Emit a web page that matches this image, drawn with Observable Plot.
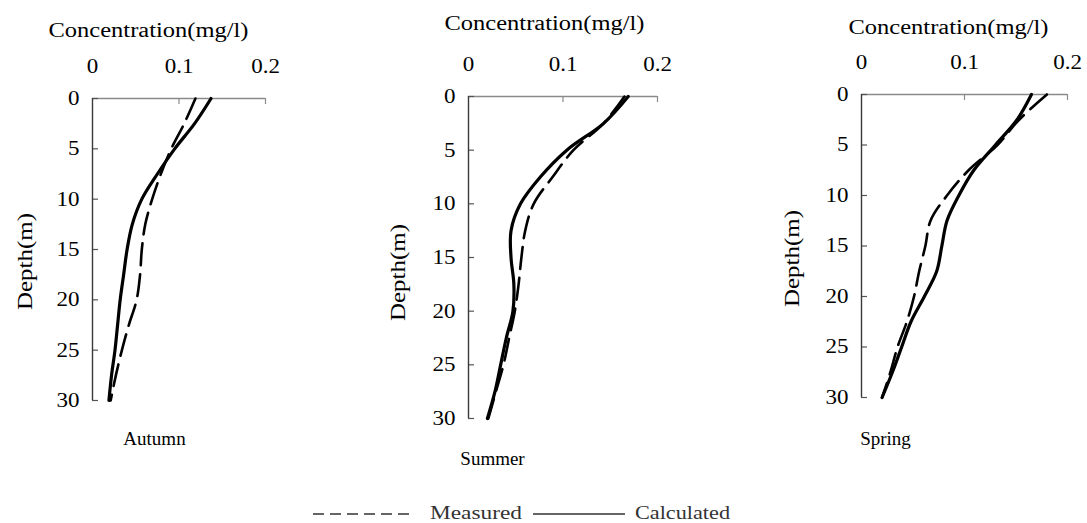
<!DOCTYPE html>
<html><head><meta charset="utf-8">
<script src="https://cdn.jsdelivr.net/npm/d3@7"></script>
<script src="https://cdn.jsdelivr.net/npm/@observablehq/plot@0.6"></script>
<style>
body{margin:0;background:#fff;}
#wrap{position:relative;width:1087px;height:523px;overflow:hidden;background:#fff;font-family:"Liberation Serif","Times New Roman",serif;}
#wrap svg, #wrap svg text{font-family:"Liberation Serif","Times New Roman",serif !important;}
.panel{position:absolute;top:0;}
#legend{position:absolute;left:0;top:500px;}
</style></head><body><div id="wrap"></div>
<script>
// ---- data ----
const depths = [0, 2.5, 5, 7.5, 10, 12.5, 15, 17.5, 20, 22.5, 25, 27.5, 30];
const autumnMeasured   = [0.119, 0.106, 0.091, 0.079, 0.069, 0.061, 0.057, 0.055, 0.051, 0.042, 0.034, 0.027, 0.021];
const autumnCalculated = [0.137, 0.118, 0.095, 0.075, 0.057, 0.046, 0.040, 0.036, 0.032, 0.029, 0.026, 0.022, 0.019];
const summerMeasured   = [0.165, 0.143, 0.111, 0.089, 0.069, 0.060, 0.056, 0.053, 0.049, 0.043, 0.037, 0.029, 0.021];
const summerCalculated = [0.169, 0.143, 0.104, 0.076, 0.055, 0.045, 0.045, 0.048, 0.047, 0.040, 0.034, 0.028, 0.020];
const springMeasured   = [0.180, 0.153, 0.132, 0.104, 0.083, 0.067, 0.062, 0.056, 0.051, 0.044, 0.035, 0.028, 0.020];
const springCalculated = [0.165, 0.151, 0.130, 0.109, 0.0945, 0.083, 0.078, 0.073, 0.061, 0.048, 0.039, 0.030, 0.020];
const seasons = ["Autumn", "Summer", "Spring"];
const xTicks = [0, 0.1, 0.2];
const xTickLabels = ["0", "0.1", "0.2"];
const yTicks = [0, 5, 10, 15, 20, 25, 30];
const xTitle = "Concentration(mg/l)";
const yTitle = "Depth(m)";
const legendLabels = ["Measured", "Calculated"];

const FONT = "Liberation Serif";
const wrap = document.getElementById("wrap");

const layouts = [
  {left: 0,   width: 330, height: 470, mL: 92,  mR: 65, mT: 98, mB: 70, title: [148, 30], depth: [25, 261],  season: [154, 438]},
  {left: 340, width: 370, height: 470, mL: 128, mR: 53, mT: 96, mB: 52, title: [544, 23], depth: [398, 272], season: [492, 458]},
  {left: 720, width: 367, height: 470, mL: 141, mR: 20, mT: 94, mB: 73, title: [948, 27], depth: [792, 258], season: [885, 438]}
];
const seriesSets = [
  [autumnMeasured, autumnCalculated],
  [summerMeasured, summerCalculated],
  [springMeasured, springCalculated]
];

function stretch(el, factor, target) {
  const w = el.getComputedTextLength();
  el.setAttribute("textLength", target != null ? target : w * factor);
  el.setAttribute("lengthAdjust", "spacingAndGlyphs");
}
function textsOf(root, label) {
  const out = [];
  root.querySelectorAll(`[aria-label="${label}"]`).forEach(n => {
    if (n.tagName.toLowerCase() === "text") out.push(n);
    else n.querySelectorAll("text").forEach(t => out.push(t));
  });
  return out;
}

seasons.forEach((season, k) => {
  const L = layouts[k];
  const [meas, calc] = seriesSets[k];
  const measRows = depths.map((d, i) => ({depth: d, conc: meas[i]}));
  const calcRows = depths.map((d, i) => ({depth: d, conc: calc[i]}));
  const fw = L.width - L.mL - L.mR, fh = L.height - L.mT - L.mB;
  const ox = L.left + L.mL, oy = L.mT;
  const chart = Plot.plot({
    width: L.width, height: L.height,
    marginLeft: L.mL, marginRight: L.mR, marginTop: L.mT, marginBottom: L.mB,
    style: {fontFamily: FONT, fontSize: "20px", color: "#000", background: "transparent", overflow: "visible"},
    x: {domain: [0, 0.2], axis: null},
    y: {domain: [0, 30], reverse: true, axis: null},
    marks: [
      Plot.ruleY([0], {stroke: "#8a8a8a", strokeWidth: 1.4}),
      Plot.ruleX([0.1, 0.2], {stroke: "#8a8a8a", strokeWidth: 1.2, insetBottom: fh - 6}),
      Plot.ruleY(yTicks, {stroke: "#555", strokeWidth: 1.2, insetRight: fw - 6}),
      Plot.ruleX([0], {stroke: "#3a3a3a", strokeWidth: 1.4}),
      Plot.axisX({anchor: "top", ticks: xTicks, tickFormat: d => xTickLabels[xTicks.indexOf(d)], tickSize: 0, tickPadding: 26, label: null, fontSize: 20, fontFamily: FONT, fill: "#000"}),
      Plot.axisY({anchor: "left", ticks: yTicks, tickSize: 0, tickPadding: 13, label: null, fontSize: 20, fontFamily: FONT, fill: "#000"}),
      Plot.line(calcRows, {x: "conc", y: "depth", curve: "catmull-rom", stroke: "#000", strokeWidth: 3.2}),
      Plot.line(measRows, {x: "conc", y: "depth", curve: "catmull-rom", stroke: "#000", strokeWidth: 2.6, strokeDasharray: "22,9"}),
      Plot.text([xTitle], {text: d => d, ariaLabel: () => "x-title", frameAnchor: "top-left", textAnchor: "middle", lineAnchor: "middle", dx: L.title[0] - ox, dy: L.title[1] - oy, fontSize: 20, fontFamily: FONT, fill: "#000"}),
      Plot.text([yTitle], {text: d => d, ariaLabel: () => "y-title", frameAnchor: "top-left", textAnchor: "middle", lineAnchor: "middle", rotate: -90, dx: L.depth[0] - ox, dy: L.depth[1] - oy, fontSize: 20, fontFamily: FONT, fill: "#000"}),
      Plot.text([season], {text: d => d, ariaLabel: () => "season", frameAnchor: "top-left", textAnchor: "middle", lineAnchor: "middle", dx: L.season[0] - ox, dy: L.season[1] - oy, fontSize: 19, fontFamily: FONT, fill: "#000"})
    ]
  });
  chart.classList.add("panel");
  chart.style.left = L.left + "px";
  wrap.appendChild(chart);
  textsOf(chart, "x-title").forEach(t => stretch(t, 1, 200));
  textsOf(chart, "y-title").forEach(t => stretch(t, 1, 97));
  textsOf(chart, "x-axis tick label").concat(textsOf(chart, "y-axis tick label")).forEach(t => stretch(t, 1.15));
});

// ---- legend ----
const NS = "http://www.w3.org/2000/svg";
const lg = document.createElementNS(NS, "svg");
lg.setAttribute("id", "legend");
lg.setAttribute("width", 1087);
lg.setAttribute("height", 23);
wrap.appendChild(lg);
const legendItems = [
  {label: legendLabels[0], x1: 313, x2: 415, tx: 430, tw: 92, dash: "11,6"},
  {label: legendLabels[1], x1: 533, x2: 625, tx: 635, tw: 95, dash: null}
];
legendItems.forEach(it => {
  const ln = document.createElementNS(NS, "line");
  ln.setAttribute("x1", it.x1); ln.setAttribute("x2", it.x2);
  ln.setAttribute("y1", 14); ln.setAttribute("y2", 14);
  ln.setAttribute("stroke", "#333"); ln.setAttribute("stroke-width", 1.5);
  if (it.dash) ln.setAttribute("stroke-dasharray", it.dash);
  lg.appendChild(ln);
  const t = document.createElementNS(NS, "text");
  t.setAttribute("x", it.tx); t.setAttribute("y", 19);
  t.setAttribute("font-family", FONT); t.setAttribute("font-size", 18);
  t.setAttribute("fill", "#333");
  t.textContent = it.label;
  lg.appendChild(t);
  stretch(t, 1, it.tw);
});
</script>
</body></html>
